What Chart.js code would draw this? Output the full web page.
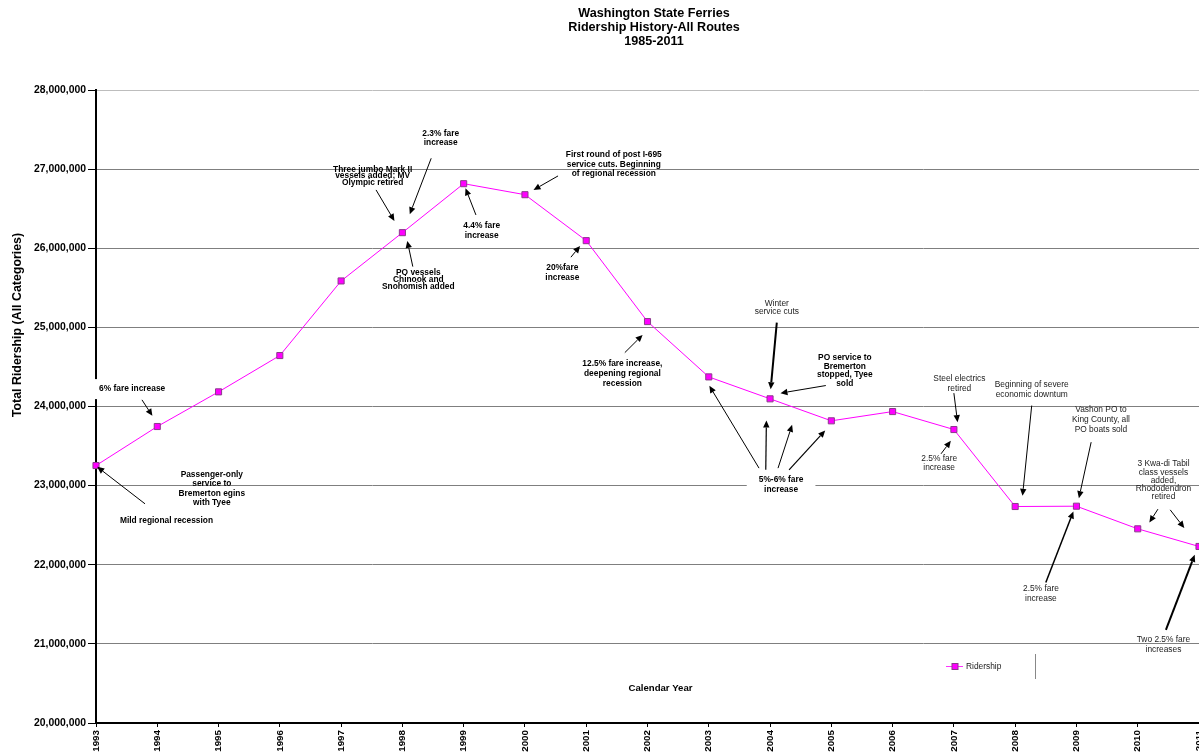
<!DOCTYPE html>
<html>
<head>
<meta charset="utf-8">
<title>Washington State Ferries Ridership History</title>
<script src="https://cdn.jsdelivr.net/npm/chart.js@4"></script>
<style>
    html, body { margin: 0; padding: 0; background: #fff; overflow: hidden; }
    #wrap { position: relative; width: 1199px; height: 755px; }
</style>
</head>
<body>
<div id="wrap"><canvas id="ridership-chart"></canvas></div>
<script>
// Calendar years on the x axis
const years = ["1993", "1994", "1995", "1996", "1997", "1998", "1999", "2000", "2001", "2002",
               "2003", "2004", "2005", "2006", "2007", "2008", "2009", "2010", "2011"];

// Total ridership, all categories
const ridership = [23254000, 23747000, 24185000, 24644000, 25587000, 26197000, 26816000, 26677000, 26096000, 25073000,
                   24374000, 24097000, 23819000, 23936000, 23709000, 22736000, 22740000, 22454000, 22231000];

const titleLines = ["Washington State Ferries", "Ridership History-All Routes", "1985-2011"];

// Annotation texts, placed at [year, millions] (first line centre)
const notes = [
    { lines: ["6% fare increase"], at: [1993.59, 24.22], bold: true, lh: 10, box: [9, 5] },
    { lines: ["Passenger-only", "service to", "Bremerton egins", "with Tyee"], at: [1994.89, 23.136], bold: true, lh: 9.3 },
    { lines: ["Mild regional recession"], at: [1994.15, 22.555], bold: true, lh: 10 },
    { lines: ["Three jumbo Mark II", "vessels added; MV", "Olympic retired"], at: [1997.515, 26.998], bold: true, lh: 6.8 },
    { lines: ["2.3% fare", "increase"], at: [1998.625, 27.453], bold: true, lh: 9 },
    { lines: ["4.4% fare", "increase"], at: [1999.294, 26.291], bold: true, lh: 10 },
    { lines: ["PO vessels", "Chinook and", "Snohomish added"], at: [1998.26, 25.692], bold: true, lh: 6.8 },
    { lines: ["First round of post I-695", "service cuts. Beginning", "of regional recession"], at: [2001.45, 27.179], bold: true, lh: 9.5 },
    { lines: ["20%fare", "increase"], at: [2000.61, 25.755], bold: true, lh: 10 },
    { lines: ["12.5% fare increase,", "deepening regional", "recession"], at: [2001.59, 24.547], bold: true, lh: 10 },
    { lines: ["Winter", "service cuts"], at: [2004.11, 25.297], bold: false, lh: 8.3 },
    { lines: ["PO service to", "Bremerton", "stopped, Tyee", "sold"], at: [2005.22, 24.611], bold: true, lh: 8.4 },
    { lines: ["5%-6% fare", "increase"], at: [2004.18, 23.073], bold: true, lh: 10, box: [12, 4] },
    { lines: ["Steel electrics", "retired"], at: [2007.09, 24.349], bold: false, lh: 9.3 },
    { lines: ["2.5% fare", "increase"], at: [2006.76, 23.339], bold: false, lh: 9.3 },
    { lines: ["Beginning of severe", "economic downtum"], at: [2008.27, 24.273], bold: false, lh: 10 },
    { lines: ["Vashon PO to", "King County, all", "PO boats sold"], at: [2009.40, 23.958], bold: false, lh: 9.7 },
    { lines: ["2.5% fare", "increase"], at: [2008.42, 21.692], bold: false, lh: 9.7 },
    { lines: ["3 Kwa-di Tabil", "class vessels", "added,", "Rhododendron", "retired"], at: [2010.42, 23.272], bold: false, lh: 8.2 },
    { lines: ["Two 2.5% fare", "increases"], at: [2010.42, 21.052], bold: false, lh: 10 }
];

// Arrows from -> to, in [year, millions]
const arrows = [
    { from: [1993.75, 24.084], to: [1993.92, 23.882], w: 1 },
    { from: [1993.80, 22.770], to: [1993.02, 23.237], w: 1 },
    { from: [1997.57, 26.737], to: [1997.87, 26.345], w: 1 },
    { from: [1998.47, 27.137], to: [1998.12, 26.430], w: 1 },
    { from: [1999.20, 26.421], to: [1999.03, 26.758], w: 1 },
    { from: [1998.17, 25.768], to: [1998.08, 26.093], w: 1 },
    { from: [2000.54, 26.914], to: [2000.14, 26.737], w: 1 },
    { from: [2000.75, 25.887], to: [2000.90, 26.029], w: 1 },
    { from: [2001.63, 24.681], to: [2001.92, 24.905], w: 1 },
    { from: [2004.11, 25.060], to: [2004.01, 24.219], w: 2 },
    { from: [2004.91, 24.265], to: [2004.17, 24.169], w: 1 },
    { from: [2003.82, 23.221], to: [2003.01, 24.261], w: 1 },
    { from: [2003.93, 23.200], to: [2003.94, 23.822], w: 1.2 },
    { from: [2004.13, 23.221], to: [2004.36, 23.768], w: 1 },
    { from: [2004.31, 23.200], to: [2004.90, 23.696], w: 1.2 },
    { from: [2007.00, 24.169], to: [2007.06, 23.802], w: 1 },
    { from: [2006.79, 23.402], to: [2006.95, 23.566], w: 1 },
    { from: [2008.27, 24.012], to: [2008.12, 22.871], w: 1 },
    { from: [2009.24, 23.549], to: [2009.04, 22.842], w: 1 },
    { from: [2008.50, 21.776], to: [2008.95, 22.673], w: 1.5 },
    { from: [2010.33, 22.703], to: [2010.19, 22.534], w: 1 },
    { from: [2010.53, 22.694], to: [2010.76, 22.463], w: 1 },
    { from: [2010.46, 21.178], to: [2010.93, 22.126], w: 2 }
];

const FONT = "'Liberation Sans', Arial, sans-serif";

function drawArrow(ctx, x1, y1, x2, y2, w) {
    const ang = Math.atan2(y2 - y1, x2 - x1);
    const len = 7, half = 3.2;
    const bx = x2 - len * Math.cos(ang), by = y2 - len * Math.sin(ang);
    ctx.strokeStyle = "#000";
    ctx.lineWidth = w;
    ctx.beginPath();
    ctx.moveTo(x1, y1);
    ctx.lineTo(bx, by);
    ctx.stroke();
    ctx.fillStyle = "#000";
    ctx.beginPath();
    ctx.moveTo(x2, y2);
    ctx.lineTo(bx + half * Math.sin(ang), by - half * Math.cos(ang));
    ctx.lineTo(bx - half * Math.sin(ang), by + half * Math.cos(ang));
    ctx.closePath();
    ctx.fill();
}

const notesPlugin = {
    id: "notes",
    afterDraw(chart) {
        const ctx = chart.ctx;
        const xs = chart.scales.x, ys = chart.scales.y;
        const px = yr => xs.getPixelForValue(yr - Number(years[0]));
        const py = m => ys.getPixelForValue(m * 1e6);
        ctx.save();

        // Title
        ctx.fillStyle = "#000";
        ctx.textAlign = "center";
        ctx.textBaseline = "middle";
        ctx.font = "bold 12.6px " + FONT;
        titleLines.forEach((t, i) => ctx.fillText(t, 654, 13.5 + i * 14.2));

        // Axis titles
        ctx.font = "bold 9.6px " + FONT;
        ctx.fillText("Calendar Year", 660.5, 688);
        ctx.save();
        ctx.translate(17.5, 325);
        ctx.rotate(-Math.PI / 2);
        ctx.font = "bold 12.4px " + FONT;
        ctx.fillText("Total Ridership (All Categories)", 0, 0);
        ctx.restore();

        // Notes
        notes.forEach(n => {
            const cx = px(n.at[0]), cy = py(n.at[1]);
            ctx.font = (n.bold ? "bold " : "") + "8.4px " + FONT;
            if (n.box) {
                const w = Math.max(...n.lines.map(l => ctx.measureText(l).width));
                const h = (n.lines.length - 1) * n.lh + 10;
                ctx.fillStyle = "#fff";
                ctx.fillRect(cx - w / 2 - n.box[0], cy - 5 - n.box[1], w + 2 * n.box[0], h + 2 * n.box[1]);
            }
            ctx.fillStyle = n.bold ? "#000" : "#222";
            n.lines.forEach((l, i) => ctx.fillText(l, cx, cy + i * n.lh));
        });

        // Arrows
        arrows.forEach(a => drawArrow(ctx, px(a.from[0]), py(a.from[1]), px(a.to[0]), py(a.to[1]), a.w));

        // Legend
        ctx.strokeStyle = "#ff33ff";
        ctx.lineWidth = 1;
        ctx.beginPath();
        ctx.moveTo(946, 666.5);
        ctx.lineTo(963, 666.5);
        ctx.stroke();
        ctx.fillStyle = "#ff00ff";
        ctx.fillRect(952, 663.5, 6, 6);
        ctx.strokeStyle = "#8b3a8b";
        ctx.strokeRect(952, 663.5, 6, 6);
        ctx.fillStyle = "#222";
        ctx.textAlign = "left";
        ctx.font = "8.4px " + FONT;
        ctx.fillText("Ridership", 966, 666.5);
        ctx.strokeStyle = "#888";
        ctx.beginPath();
        ctx.moveTo(1035.5, 654);
        ctx.lineTo(1035.5, 679);
        ctx.stroke();

        ctx.restore();
    }
};

const ctx = document.getElementById("ridership-chart").getContext("2d");
new Chart(ctx, {
    type: "line",
    data: {
        labels: years,
        datasets: [{
            label: "Ridership",
            data: ridership,
            borderColor: "#ff00ff",
            borderWidth: 1,
            backgroundColor: "#ff00ff",
            pointStyle: "rect",
            pointRadius: 4.3,
            pointBackgroundColor: "#ff00ff",
            pointBorderColor: "#8b3a8b",
            pointBorderWidth: 1,
            tension: 0
        }]
    },
    options: {
        responsive: true,
        maintainAspectRatio: false,
        animation: false,
        layout: { autoPadding: false, padding: { top: 90, left: 0, right: 0, bottom: 0 } },
        plugins: {
            legend: { display: false },
            title: { display: false },
            tooltip: { enabled: false }
        },
        scales: {
            x: {
                type: "category",
                offset: false,
                border: { color: "#000", width: 2 },
                grid: { drawOnChartArea: false, color: "#000", tickLength: 4 },
                ticks: {
                    autoSkip: false,
                    maxRotation: 90,
                    minRotation: 90,
                    padding: 3,
                    color: "#000",
                    font: { family: FONT, size: 9.8, weight: "bold" }
                },
                afterFit(scale) {
                    scale.height = 32;
                    scale.paddingLeft = 0;
                    scale.paddingRight = 0;
                }
            },
            y: {
                min: 20000000,
                max: 28000000,
                border: { color: "#000", width: 2 },
                grid: {
                    color: c => c.tick && c.tick.value === 28000000 ? "#bdbdbd" : "#7f7f7f",
                    tickColor: "#000",
                    tickLength: 8
                },
                ticks: {
                    stepSize: 1000000,
                    padding: 2,
                    color: "#000",
                    font: { family: FONT, size: 10.4, weight: "bold" },
                    callback: v => v.toLocaleString("en-US")
                },
                afterFit(scale) {
                    scale.width = 96;
                    scale.paddingTop = 0;
                    scale.paddingBottom = 0;
                }
            }
        }
    },
    plugins: [notesPlugin]
});
</script>
</body>
</html>
